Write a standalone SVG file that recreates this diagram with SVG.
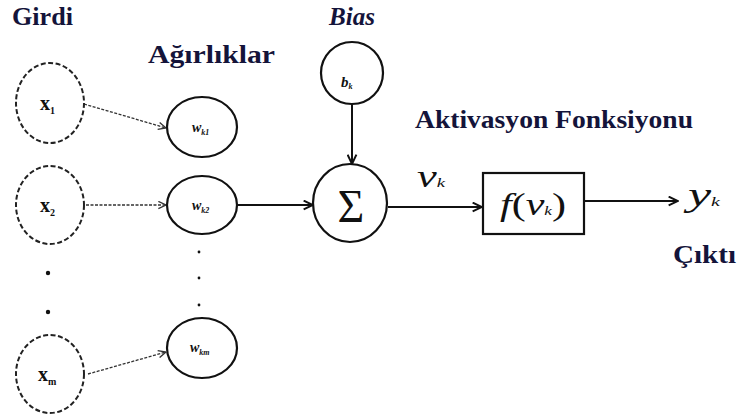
<svg xmlns="http://www.w3.org/2000/svg" width="741" height="416" viewBox="0 0 741 416">
<style>
.lbl{font-family:'Liberation Serif','DejaVu Serif',serif;font-weight:bold;fill:#14143a;font-size:25px}
.m{font-family:'Liberation Serif','DejaVu Serif',serif;fill:#111}
.dc{fill:none;stroke:#222;stroke-width:2;stroke-dasharray:5 2.5}
.sc{fill:none;stroke:#111;stroke-width:2.2}
.dl{fill:none;stroke:#333;stroke-width:1.3;stroke-dasharray:3 1.5}
.sl{fill:none;stroke:#111;stroke-width:2}
.dot{fill:#111}
</style>
<defs>
<marker id="ov" viewBox="0 0 10 10" refX="9.5" refY="5" markerWidth="9" markerHeight="9" markerUnits="userSpaceOnUse" orient="auto"><path d="M1,1 L9.5,5 L1,9" fill="none" stroke="#333" stroke-width="1.5"/></marker>
<marker id="sv" viewBox="0 0 10 10" refX="9.5" refY="5" markerWidth="11" markerHeight="11" markerUnits="userSpaceOnUse" orient="auto"><path d="M1,1 L9.5,5 L1,9" fill="none" stroke="#111" stroke-width="1.8"/></marker>
</defs>
<text class="lbl" x="12" y="25" textLength="61" lengthAdjust="spacingAndGlyphs">Girdi</text>
<text class="lbl" x="148" y="63" textLength="127" lengthAdjust="spacingAndGlyphs">Ağırlıklar</text>
<text class="lbl" x="329" y="25" font-style="italic" font-size="18" textLength="46" lengthAdjust="spacingAndGlyphs">Bias</text>
<text class="lbl" x="415" y="128" textLength="278" lengthAdjust="spacingAndGlyphs">Aktivasyon Fonksiyonu</text>
<text class="lbl" x="673" y="263" textLength="63" lengthAdjust="spacingAndGlyphs">Çıktı</text>

<g id="connectors">
<line class="dl" x1="84" y1="104" x2="166" y2="128" marker-end="url(#ov)"/>
<line class="dl" x1="86" y1="205" x2="166" y2="205" marker-end="url(#ov)"/>
<line class="dl" x1="88" y1="374" x2="166" y2="352" marker-end="url(#ov)"/>
<line class="sl" x1="237" y1="205" x2="313" y2="205" marker-end="url(#sv)"/>
<line class="sl" x1="352" y1="104" x2="352" y2="164" marker-end="url(#sv)"/>
<line class="sl" x1="388" y1="207" x2="482" y2="207" marker-end="url(#sv)"/>
<line class="sl" x1="584" y1="201" x2="678" y2="201" marker-end="url(#sv)"/>
</g>

<g id="x1"><ellipse class="dc" cx="50" cy="103" rx="34" ry="40"/>
<text class="m" x="40" y="110" font-size="20" font-weight="bold">x<tspan font-size="10" dy="4">1</tspan></text></g>
<g id="x2"><ellipse class="dc" cx="50" cy="205" rx="34" ry="39"/>
<text class="m" x="40" y="212" font-size="20" font-weight="bold">x<tspan font-size="10" dy="4">2</tspan></text></g>
<g id="xdots"><circle class="dot" cx="48" cy="273" r="2.2"/><circle class="dot" cx="48" cy="312" r="2.2"/></g>
<g id="xm"><ellipse class="dc" cx="50" cy="374" rx="34" ry="39"/>
<text class="m" x="38" y="381" font-size="20" font-weight="bold">x<tspan font-size="10" dy="4">m</tspan></text></g>

<g id="wk1"><ellipse class="sc" cx="202" cy="127" rx="35" ry="30"/>
<text class="m" x="192" y="132" font-size="14" font-style="italic" font-weight="bold">w<tspan font-size="8" dy="3">k1</tspan></text></g>
<g id="wk2"><ellipse class="sc" cx="202" cy="205" rx="35" ry="29"/>
<text class="m" x="192" y="210" font-size="14" font-style="italic" font-weight="bold">w<tspan font-size="8" dy="3">k2</tspan></text></g>
<g id="wdots"><circle class="dot" cx="199" cy="252" r="1.4"/><circle class="dot" cx="199" cy="278" r="1.4"/><circle class="dot" cx="199" cy="305" r="1.4"/></g>
<g id="wkm"><ellipse class="sc" cx="202" cy="348" rx="35" ry="30"/>
<text class="m" x="190" y="352" font-size="14" font-style="italic" font-weight="bold">w<tspan font-size="8" dy="3">km</tspan></text></g>

<g id="bk"><ellipse class="sc" cx="352" cy="73" rx="31" ry="31"/>
<text class="m" x="341" y="87" font-size="15" font-style="italic" font-weight="bold">b<tspan font-size="8" dy="2">k</tspan></text></g>
<g id="sum"><ellipse class="sc" cx="350" cy="203" rx="37" ry="39"/>
<text class="m" x="351" y="222" font-size="46" text-anchor="middle">Σ</text></g>
<g id="vk"><text class="m" x="417" y="187" font-size="31" font-style="italic" textLength="28" lengthAdjust="spacingAndGlyphs">v<tspan font-size="13">k</tspan></text></g>
<g id="fbox"><rect class="sc" x="483" y="173" width="101" height="61"/>
<text class="m" x="500" y="215" font-size="32" textLength="66" lengthAdjust="spacingAndGlyphs"><tspan font-style="italic">f</tspan>(<tspan font-style="italic">v</tspan><tspan font-size="13" font-style="italic">k</tspan>)</text></g>
<g id="yk"><text class="m" x="688" y="206" font-size="34" font-style="italic" textLength="32" lengthAdjust="spacingAndGlyphs">y<tspan font-size="13">k</tspan></text></g>
</svg>
